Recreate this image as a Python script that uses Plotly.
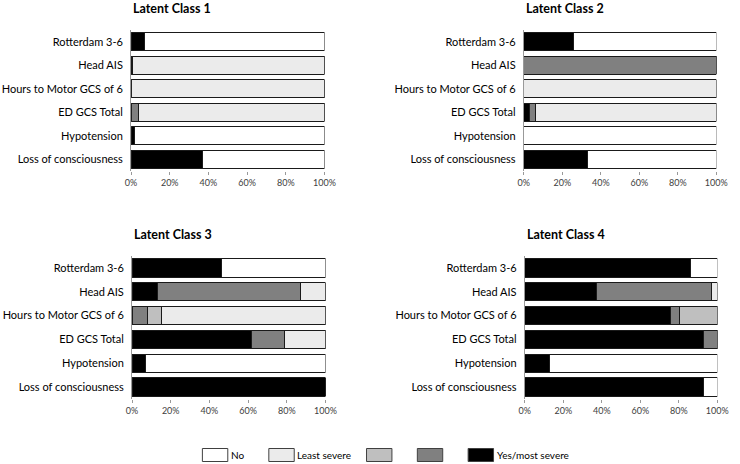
import plotly.graph_objects as go

categories = ["Rotterdam 3-6", "Head AIS", "Hours to Motor GCS of 6",
              "ED GCS Total", "Hypotension", "Loss of consciousness"]
levels = ["Yes/most severe", "Level 3", "Level 2", "Least severe", "No"]
legend_labels = ["No", "Least severe", "", "", "Yes/most severe"]
colors = {"Yes/most severe": "#000000", "Level 3": "#808080",
          "Level 2": "#bfbfbf", "Least severe": "#ebebeb", "No": "#ffffff"}
titles = ["Latent Class 1", "Latent Class 2", "Latent Class 3", "Latent Class 4"]

# percentages per class, per level, in category order
class1 = {"Yes/most severe": [7, 1, 0, 0, 2, 37],
          "Level 3":         [0, 0, 0, 4, 0, 0],
          "Level 2":         [0, 0, 0, 0, 0, 0],
          "Least severe":    [0, 99, 100, 96, 0, 0],
          "No":              [93, 0, 0, 0, 98, 63]}
class2 = {"Yes/most severe": [26, 0, 0, 2.7, 0, 33],
          "Level 3":         [0, 100, 0, 3.4, 0, 0],
          "Level 2":         [0, 0, 0, 0, 0, 0],
          "Least severe":    [0, 0, 100, 93.9, 0, 0],
          "No":              [74, 0, 0, 0, 100, 67]}
class3 = {"Yes/most severe": [46, 13, 0, 62, 7, 100],
          "Level 3":         [0, 74, 8, 17, 0, 0],
          "Level 2":         [0, 0, 7, 0, 0, 0],
          "Least severe":    [0, 13, 85, 21, 0, 0],
          "No":              [54, 0, 0, 0, 93, 0]}
class4 = {"Yes/most severe": [86, 37, 75.5, 93, 13, 93],
          "Level 3":         [0, 60, 4.7, 7, 0, 0],
          "Level 2":         [0, 0, 19.8, 0, 0, 0],
          "Least severe":    [0, 3, 0, 0, 0, 0],
          "No":              [14, 0, 0, 0, 87, 7]}
classes = [class1, class2, class3, class4]

W, H = 740, 464
# plot areas in page pixels: (x0, x1, ytop, ybottom)
areas = [(128, 326, 30, 171), (530, 727, 30, 171),
         (129, 327, 256, 399), (531, 728, 256, 399)]


def px(x):
    return x / W


def py(y):
    return 1 - y / H


FONT = "Lato"
fig = go.Figure()
for i, (data, (x0, x1, yt, yb)) in enumerate(zip(classes, areas)):
    n = "" if i == 0 else str(i + 1)
    for lvl in levels:
        fig.add_trace(go.Bar(
            y=categories, x=data[lvl], orientation="h", name=lvl,
            marker=dict(color=colors[lvl], line=dict(color="#1a1a1a", width=1)),
            xaxis="x" + n, yaxis="y" + n, showlegend=False,
            hovertemplate="%{y}: %{x}%<extra>" + lvl + "</extra>"))
    fig.layout["xaxis" + n] = dict(
        domain=[px(x0), px(x1)], anchor="y" + n, range=[0, 100],
        tickvals=[0, 20, 40, 60, 80, 100], ticktext=["0%", "20%", "40%", "60%", "80%", "100%"],
        showgrid=False, zeroline=False, showline=False,
        ticks="outside", ticklen=3, tickcolor="#999999",
        tickfont=dict(family=FONT, size=9, color="#404040"), fixedrange=True)
    fig.layout["yaxis" + n] = dict(
        domain=[py(yb), py(yt)], anchor="x" + n,
        autorange="reversed", categoryorder="array", categoryarray=categories,
        showgrid=False, zeroline=False, showline=True, linecolor="#999999", linewidth=1,
        ticks="", ticklen=0, ticklabelstandoff=5,
        tickfont=dict(family=FONT, size=11, color="#000000"), fixedrange=True)
    fig.add_annotation(x=px(x0), y=py(yt - 22), xref="paper", yref="paper",
                       text="<b>" + titles[i] + "</b>", showarrow=False,
                       xanchor="left", yanchor="middle",
                       font=dict(family=FONT, size=12.5, color="#000000"))

# manual legend (boxes + labels)
legend_x = [201, 269, 369, 421, 473]
legend_order = ["No", "Least severe", "Level 2", "Level 3", "Yes/most severe"]
ly = 455
for lx, lvl, lab in zip(legend_x, legend_order, legend_labels):
    fig.add_shape(type="rect", xref="paper", yref="paper",
                  x0=px(lx), x1=px(lx + 26), y0=py(ly + 6.5), y1=py(ly - 6.5),
                  fillcolor=colors[lvl], line=dict(color="#404040", width=1))
    if lab:
        fig.add_annotation(x=px(lx + 27), y=py(ly), xref="paper", yref="paper",
                           text=lab, showarrow=False, xanchor="left", yanchor="middle",
                           font=dict(family=FONT, size=10, color="#000000"))

fig.update_layout(width=W, height=H, margin=dict(l=0, r=0, t=0, b=0),
                  barmode="stack", bargap=0.23,
                  paper_bgcolor="white", plot_bgcolor="white",
                  font=dict(family=FONT))
fig.write_html("out.html", config={"displayModeBar": False},
               post_script="document.body.style.margin='0';"
                           "document.body.style.overflow='hidden';")
